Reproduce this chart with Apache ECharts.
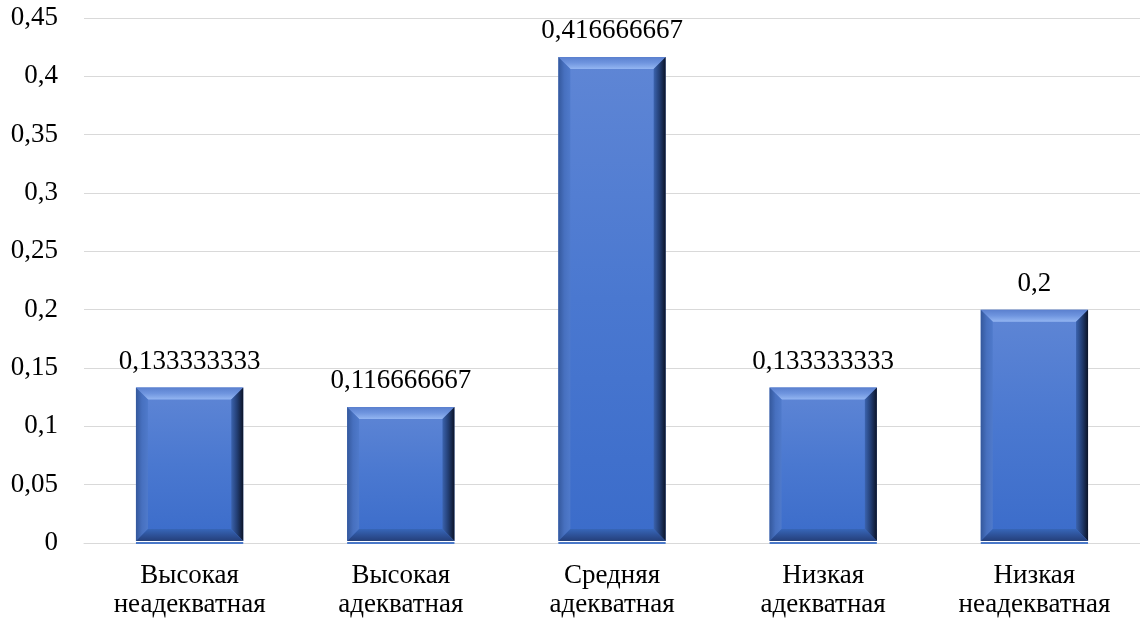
<!DOCTYPE html>
<html>
<head>
<meta charset="utf-8">
<script src="https://cdn.jsdelivr.net/npm/echarts@6/dist/echarts.min.js"></script>
<style>
  html, body { margin: 0; padding: 0; background: #fff; }
  #chart { width: 1140px; height: 624px; }
</style>
</head>
<body>
<div id="chart"></div>
<script>
// Categories (two-line labels) and their shares
const categories = [
  'Высокая\nнеадекватная',
  'Высокая\nадекватная',
  'Средняя\nадекватная',
  'Низкая\nадекватная',
  'Низкая\nнеадекватная'
];
const shares = [0.133333333, 0.116666667, 0.416666667, 0.133333333, 0.2];

const FONT_FAMILY = '"Liberation Serif", "Times New Roman", serif';
const FONT_SIZE = 27;

function commaNum(v) {
  return String(v).replace('.', ',');
}

function grad(x1, y1, x2, y2, stops) {
  return new echarts.graphic.LinearGradient(x1, y1, x2, y2,
    stops.map((c, i) => ({ offset: i / (stops.length - 1), color: c })));
}

// Bevelled bar: face + four sloped edges, positioned by the axes
function renderBevelBar(params, api) {
  const idx = api.value(0);
  const val = api.value(1);
  const base = api.coord([idx, 0]);
  const topPt = api.coord([idx, val]);
  const w = api.size([1, 0])[0] * 0.508;
  const L = base[0] - w / 2, R = base[0] + w / 2;
  const T = topPt[1], B = base[1] - 2;
  const h = B - T;
  const b = Math.min(12, h / 2, w / 2);

  return {
    type: 'group',
    children: [
      { type: 'rect', shape: { x: L, y: T, width: w, height: h },
        style: { fill: grad(0, 0, 0, 1, ['#5f86d5', '#4a78d0', '#3b6cca']) } },
      { type: 'polygon', shape: { points: [[L, T], [R, T], [R - b, T + b], [L + b, T + b]] },
        style: { fill: grad(0, 0, 0, 1, ['#5a7fce', '#6f95df', '#93b5f1']) } },
      { type: 'polygon', shape: { points: [[L, T], [L + b, T + b], [L + b, B - b], [L, B]] },
        style: { fill: grad(0, 0, 1, 0, ['#34589c', '#4770bf', '#4f7acb']) } },
      { type: 'polygon', shape: { points: [[R, T], [R, B], [R - b, B - b], [R - b, T + b]] },
        style: { fill: grad(0, 0, 1, 0, ['#3b63ae', '#223d72', '#0c1428']) } },
      { type: 'polygon', shape: { points: [[L, B], [R, B], [R - b, B - b], [L + b, B - b]] },
        style: { fill: grad(0, 0, 0, 1, ['#3766b8', '#2e5299', '#243f7a']) } },
      { type: 'rect', shape: { x: L, y: base[1] - 1, width: w, height: 2 },
        style: { fill: '#4a78c8' } },
      { type: 'text',
        style: { text: commaNum(val), x: base[0], y: T - 12,
          textAlign: 'center', textVerticalAlign: 'bottom',
          font: FONT_SIZE + 'px ' + FONT_FAMILY, fill: '#000' } }
    ]
  };
}

const chart = echarts.init(document.getElementById('chart'), null, { renderer: 'canvas' });
chart.setOption({
  backgroundColor: '#ffffff',
  animation: false,
  grid: { left: 84, width: 1062, top: 18, bottom: 81 },
  xAxis: {
    type: 'category',
    data: categories,
    axisLine: { show: true, lineStyle: { color: '#d9d9d9', width: 1 } },
    axisTick: { show: false },
    axisLabel: {
      interval: 0,
      margin: 18,
      fontFamily: FONT_FAMILY,
      fontSize: FONT_SIZE,
      lineHeight: 29,
      color: '#000'
    }
  },
  yAxis: {
    type: 'value',
    min: 0,
    max: 0.45,
    interval: 0.05,
    axisLine: { show: false },
    axisTick: { show: false },
    splitLine: { lineStyle: { color: '#d9d9d9', width: 1 } },
    axisLabel: {
      margin: 26,
      fontFamily: FONT_FAMILY,
      fontSize: FONT_SIZE,
      color: '#000',
      formatter: v => commaNum(+v.toFixed(2))
    }
  },
  series: [{
    type: 'custom',
    renderItem: renderBevelBar,
    encode: { x: 0, y: 1 },
    data: shares.map((v, i) => [i, v]),
    z: 3
  }]
});
</script>
</body>
</html>
